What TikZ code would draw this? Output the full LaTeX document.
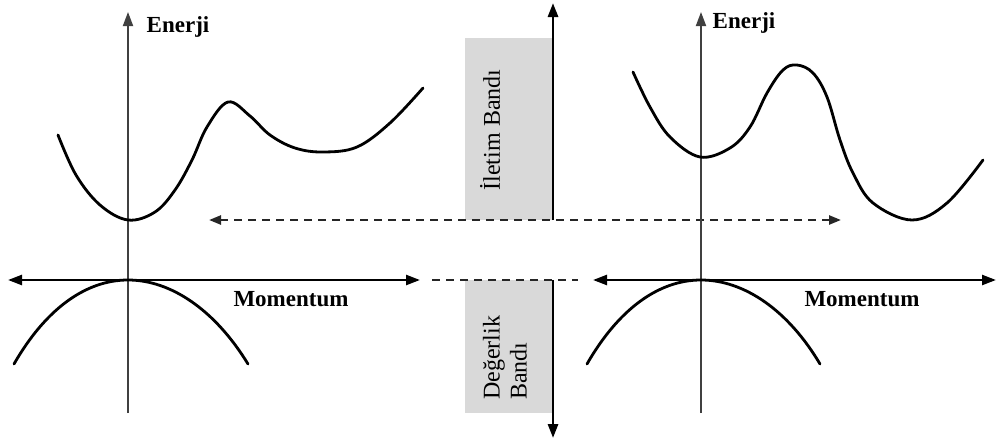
\documentclass[tikz,border=0pt]{standalone}
\usepackage{fontspec}
\setmainfont{Liberation Serif}
\usetikzlibrary{arrows.meta}
\definecolor{bandgrey}{HTML}{D9D9D9}
\definecolor{axisgrey}{HTML}{404040}
\begin{document}
\begin{tikzpicture}[x=1pt,y=-1pt,
  tipA/.style={-{Triangle[length=14pt,width=10pt]}},
  tipB/.style={{Triangle[length=14pt,width=10pt]}-{Triangle[length=14pt,width=10pt]}},
  vaxis/.style={draw=axisgrey,line width=1.8pt,tipA},
  haxis/.style={draw=black,line width=2.4pt,tipB},
  curve/.style={draw=black,line width=2.8pt,line cap=round},
  dline/.style={draw=black!85,line width=2.4pt,dash pattern=on 8pt off 6pt},
  bandbox/.style={fill=bandgrey,draw=none},
  lbl/.style={font=\fontsize{23}{26}\selectfont\bfseries,inner sep=0pt},
  bandlbl/.style={font=\fontsize{24}{27}\selectfont,inner sep=0pt,rotate=90}]
\useasboundingbox (0,0) rectangle (996,439);

% named points
\coordinate (L0) at (128,280);
\coordinate (Lbot) at (128,413);
\coordinate (Ltop) at (128,12);
\coordinate (Lleft) at (8,280);
\coordinate (Lright) at (420,280);
\coordinate (R0) at (701,280);
\coordinate (Rbot) at (701,413);
\coordinate (Rtop) at (701,12);
\coordinate (Rleft) at (593,280);
\coordinate (Rright) at (996,280);
\coordinate (CBtop) at (553,220);
\coordinate (CBtip) at (553,3);
\coordinate (CVtop) at (553,280);
\coordinate (CVtip) at (553,438);
\coordinate (Dl) at (209,220);
\coordinate (Dr) at (841,220);
\coordinate (Ml) at (432,280);
\coordinate (Mr) at (578,280);

% band boxes
\path[bandbox] (465,38) rectangle (CBtop);
\path[bandbox] (465,413) rectangle (CVtop);

% dashed lines
\draw[dline,{Triangle[length=12pt,width=9pt]}-{Triangle[length=12pt,width=9pt]}] (Dl) -- (Dr);
\draw[dline] (Ml) -- (Mr);

% axes
\draw[vaxis] (Lbot) -- (Ltop);
\draw[haxis] (Lleft) -- (Lright);
\draw[vaxis] (Rbot) -- (Rtop);
\draw[haxis] (Rleft) -- (Rright);

% centre arrows
\draw[line width=2.8pt,tipA] (CBtop) -- (CBtip);
\draw[line width=2.8pt,tipA] (CVtop) -- (CVtip);

% left curves
\draw[curve] plot[smooth,tension=0.6] coordinates {(58,135) (76,175) (100,205) (128,220) (155,212) (175,190) (192,160) (207,127) (228,102) (250,116) (270,135) (295,148) (323,152) (357,147) (390,123) (423,88)};
\draw[curve] (14,364) .. controls (45,310) and (85,280) .. (L0) .. controls (171,280) and (215,310) .. (248,364);

% right curves
\draw[curve] plot[smooth,tension=0.6] coordinates {(633,72) (650,107) (670,137) (700,157) (730,148) (750,127) (767,93) (783,70) (797,65) (813,73) (827,97) (840,140) (853,173) (873,203) (912,220) (947,203) (983,160)};
\draw[curve] (587,364) .. controls (618,310) and (658,280) .. (R0) .. controls (744,280) and (788,310) .. (820,364);

% labels
\node[lbl] (e1) at (178,27) {Enerji};
\node[lbl] (e2) at (744,23) {Enerji};
\node[lbl] (m1) at (291,299) {Momentum};
\node[lbl] (m2) at (862,299) {Momentum};
\node[bandlbl] (ib) at (490,130) {İletim Bandı};
\node[bandlbl,anchor=west,align=left] (db) at (505,400) {Değerlik\\Bandı};
\end{tikzpicture}
\end{document}
